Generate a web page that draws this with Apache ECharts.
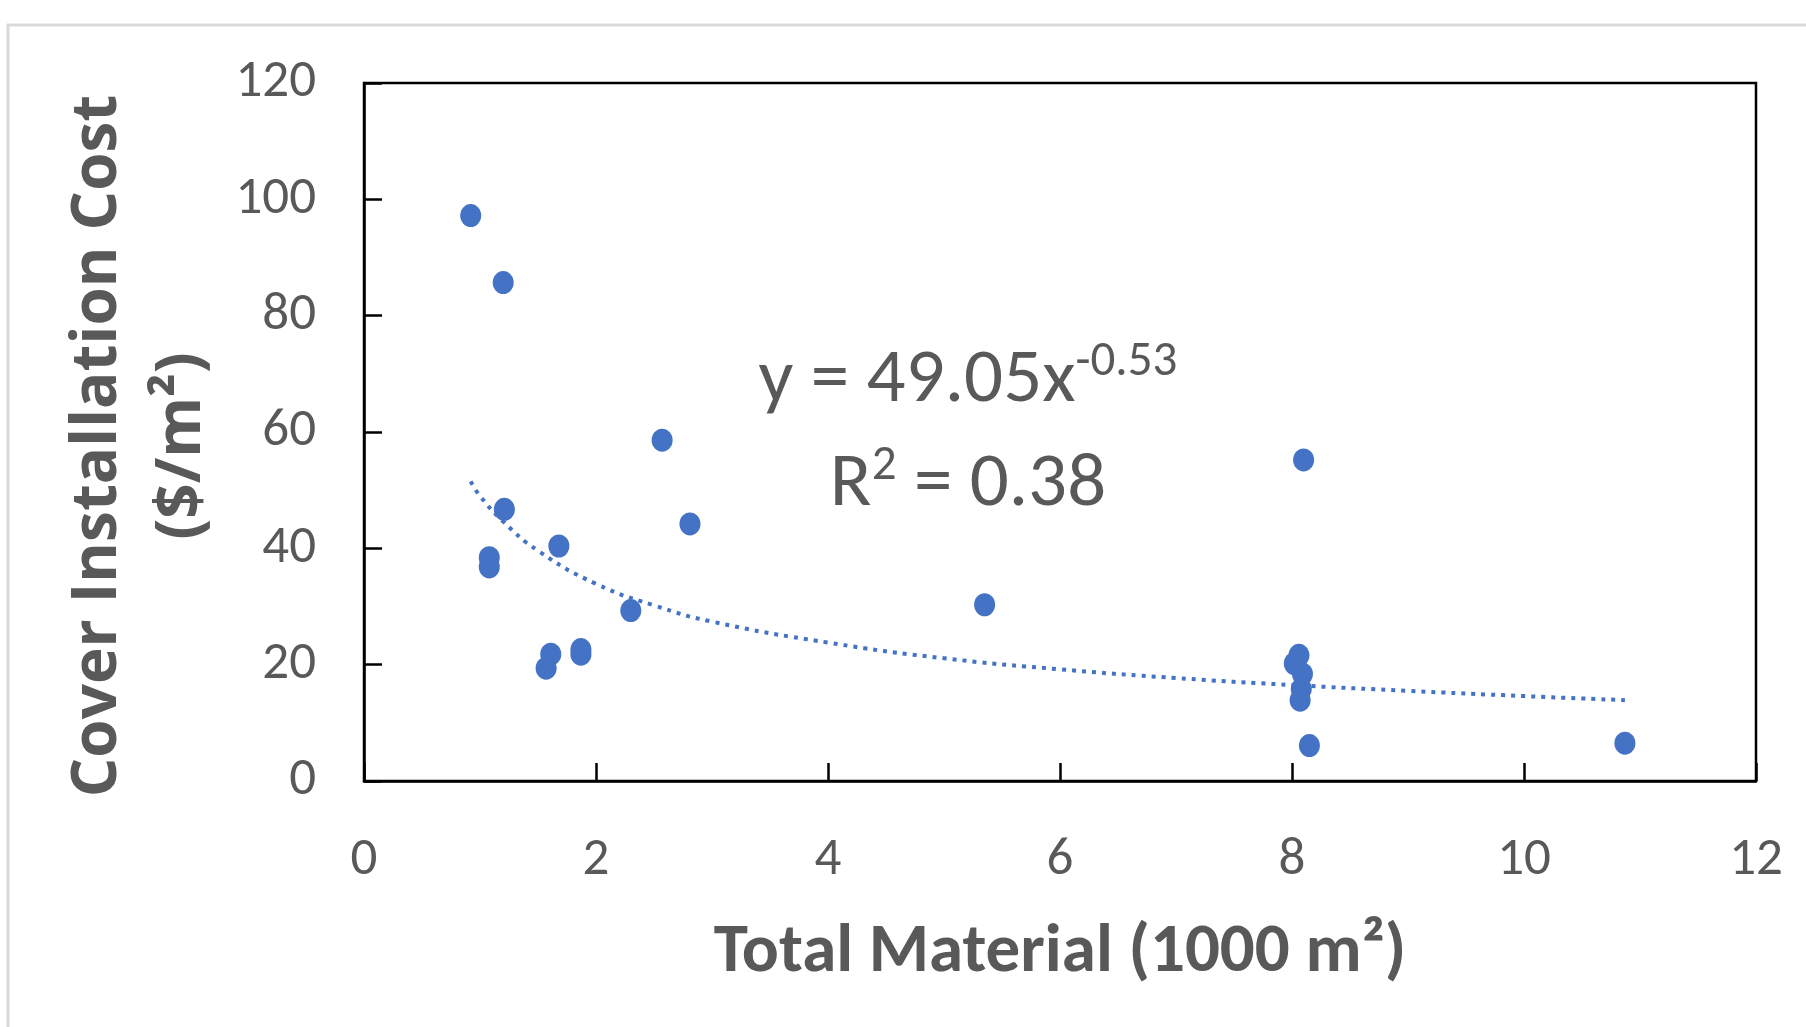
<!DOCTYPE html>
<html>
<head>
<meta charset="utf-8">
<script src="https://cdn.jsdelivr.net/npm/echarts@6/dist/echarts.min.js"></script>
<style>
html, body { margin: 0; padding: 0; background: #fff; }
#app { width: 1806px; height: 1027px; }
</style>
</head>
<body>
<div id="app"></div>
<script>
// total material (1000 m2) and cover installation cost ($/m2)
const materialK = [0.92, 1.20, 1.21, 1.08, 1.08, 1.68, 1.61, 1.57, 1.87, 1.87, 2.30, 2.57, 2.81, 5.35, 8.10, 8.06, 8.02, 8.09, 8.08, 8.07, 8.15, 10.87];
const coverCost = [97.2, 85.7, 46.7, 38.4, 36.8, 40.4, 21.8, 19.4, 22.6, 21.8, 29.3, 58.6, 44.2, 30.3, 55.2, 21.6, 20.2, 18.4, 15.8, 13.9, 6.1, 6.5];

// dotted power trendline
const trendX = [0.92, 1.0, 1.2, 1.5, 2.0, 2.5, 3.0, 4.0, 5.0, 6.0, 7.0, 8.0, 9.0, 10.0, 10.87];
const trendY = [51.5, 49.0, 44.6, 39.6, 33.9, 30.2, 27.4, 23.8, 21.1, 19.2, 17.7, 16.5, 15.5, 14.6, 13.9];

const eqLine1 = 'y = 49.05x';
const eqExp = '-0.53';
const eqLine2 = ' = 0.38';

const calibri = 'Carlito, "Liberation Sans Narrow", "Open Sans", sans-serif';
const grey = '#595959';
const blue = '#4472C4';

const myChart = echarts.init(document.getElementById('app'));

const option = {
    animation: false,
    backgroundColor: '#fff',
    grid: {
        left: 364, top: 83, right: 50, bottom: 246,
        show: true, borderColor: '#000', borderWidth: 2.5
    },
    xAxis: {
        type: 'value', min: 0, max: 12, interval: 2,
        name: 'Total Material (1000 m²)',
        nameLocation: 'middle', nameGap: 138,
        nameTextStyle: { color: grey, fontFamily: calibri, fontWeight: 'bold', fontSize: 69 },
        axisLine: { show: true, onZero: false, lineStyle: { color: '#000', width: 2.5 } },
        axisTick: { show: true, inside: true, length: 18, lineStyle: { color: '#000', width: 2.5 } },
        axisLabel: { color: grey, fontFamily: calibri, fontSize: 53, margin: 53 },
        splitLine: { show: false }
    },
    yAxis: {
        type: 'value', min: 0, max: 120, interval: 20,
        name: 'Cover Installation Cost\n($/m²)',
        nameLocation: 'middle', nameGap: 136, nameRotate: 90,
        nameTextStyle: {
            color: grey, fontFamily: '"Open Sans", sans-serif', fontWeight: 'bold',
            fontSize: 62, lineHeight: 84, align: 'center', padding: [0, 28, 0, 0]
        },
        axisLine: { show: true, lineStyle: { color: '#000', width: 2.5 } },
        axisTick: { show: true, inside: true, length: 18, lineStyle: { color: '#000', width: 2.5 } },
        axisLabel: { color: grey, fontFamily: calibri, fontSize: 53, margin: 48 },
        splitLine: { show: false }
    },
    graphic: [
        {
            type: 'rect', silent: true, z: -1,
            shape: { x: 8, y: 25, width: 1900, height: 1100 },
            style: { fill: 'none', stroke: '#d9d9d9', lineWidth: 3 }
        },
        {
            type: 'text', x: 968, y: 382, z: 10,
            style: {
                text: '{a|' + eqLine1 + '}{s|' + eqExp + '}',
                align: 'center', verticalAlign: 'middle',
                rich: {
                    a: { fontFamily: calibri, fontSize: 77, lineHeight: 88, fill: grey, color: grey },
                    s: { fontFamily: calibri, fontSize: 49, verticalAlign: 'top', fill: grey, color: grey }
                }
            }
        },
        {
            type: 'text', x: 968, y: 486, z: 10,
            style: {
                text: '{a|R}{s|2}{a|' + eqLine2 + '}',
                align: 'center', verticalAlign: 'middle',
                rich: {
                    a: { fontFamily: calibri, fontSize: 77, lineHeight: 88, fill: grey, color: grey },
                    s: { fontFamily: calibri, fontSize: 49, verticalAlign: 'top', fill: grey, color: grey }
                }
            }
        }
    ],
    series: [
        {
            type: 'scatter',
            symbol: 'circle',
            symbolSize: [21, 23],
            itemStyle: { color: blue, opacity: 1 },
            data: materialK.map((x, i) => [x, coverCost[i]])
        },
        {
            type: 'line',
            smooth: true,
            showSymbol: false,
            silent: true,
            lineStyle: { color: blue, width: 4, type: [4, 6], cap: 'butt' },
            data: trendX.map((x, i) => [x, trendY[i]])
        }
    ]
};

myChart.setOption(option);
</script>
</body>
</html>
